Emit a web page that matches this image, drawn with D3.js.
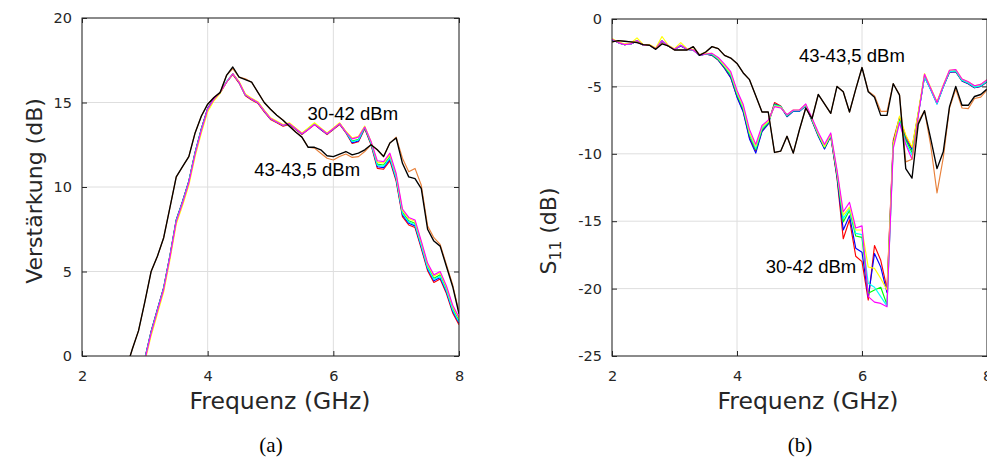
<!DOCTYPE html>
<html>
<head>
<meta charset="utf-8">
<script src="https://cdn.jsdelivr.net/npm/d3@7"></script>
<style>
  html, body { margin: 0; padding: 0; background: #ffffff; }
  svg { display: block; }
</style>
</head>
<body>
<svg id="chart" width="987" height="475"></svg>
<script>
// ---------------- DATA ----------------
// Panel (a): gain vs frequency
const freqGain = [2.7,2.8,2.9,
  3.0,3.1,3.2,3.3,3.4,3.5,3.6,3.7,3.8,3.9,
  4.0,4.1,4.2,4.3,4.4,4.5,4.6,4.7,4.8,4.9,
  5.0,5.1,5.2,5.3,5.4,5.5,5.6,5.7,5.8,5.9,
  6.0,6.1,6.2,6.3,6.4,6.5,6.6,6.7,6.8,6.9,
  7.0,7.1,7.2,7.3,7.4,7.5,7.6,7.7,7.8,7.9,
  8.0];

const gain30 = [null,null,null,
  -0.15,1.45,2.75,4.05,5.95,8.05,9.15,10.35,12.05,13.45,
  14.65,15.25,15.6,16.2,16.65,16.15,15.4,15.15,14.95,14.45,
  14.0,13.8,13.6,13.7,13.4,13.1,13.4,13.7,13.4,13.1,
  13.4,13.7,13.2,12.58,12.68,13.45,12.5,11.1,11.05,11.55,
  10.35,8.25,7.75,7.6,6.35,5.05,4.35,4.55,3.7,2.55,
  1.85];
const gain33 = [null,null,null,
  -0.15,1.45,2.75,4.05,5.95,8.05,9.15,10.35,12.05,13.45,
  14.65,15.2,15.6,16.2,16.7,16.2,15.45,15.2,15.0,14.5,
  14.05,13.85,13.65,13.75,13.45,13.15,13.45,13.75,13.4,13.15,
  13.45,13.75,13.25,12.62,12.72,13.5,12.55,11.2,11.15,11.65,
  10.45,8.35,7.85,7.7,6.45,5.15,4.45,4.65,3.8,2.65,
  1.95];
const gain36 = [null,null,null,
  -0.2,1.4,2.7,4.0,5.9,8.0,9.1,10.3,12.0,13.4,
  14.6,15.2,15.6,16.2,16.7,16.2,15.45,15.2,15.0,14.5,
  14.05,13.85,13.65,13.75,13.45,13.15,13.45,13.75,13.45,13.15,
  13.45,13.75,13.25,12.72,12.82,13.5,12.6,11.35,11.3,11.8,
  10.6,8.5,8.0,7.85,6.6,5.3,4.6,4.8,3.95,2.8,
  2.1];
const gain39 = [null,null,null,
  -0.2,1.4,2.7,4.0,5.9,8.0,9.1,10.3,12.0,13.4,
  14.6,15.2,15.6,16.25,16.7,16.2,15.45,15.2,15.0,14.5,
  14.05,13.85,13.65,13.75,13.45,13.15,13.45,13.75,13.45,13.15,
  13.45,13.75,13.25,12.68,12.78,13.55,12.6,11.28,11.22,11.72,
  10.52,8.42,7.92,7.77,6.52,5.22,4.52,4.72,3.87,2.72,
  2.02];
const gain41 = [null,null,null,
  -0.35,1.2,2.5,3.8,5.7,7.8,8.9,10.1,11.8,13.2,
  14.45,15.1,15.55,16.2,16.7,16.25,15.5,15.25,15.05,14.55,
  14.1,13.9,13.7,13.8,13.5,13.2,13.5,13.8,13.5,13.2,
  13.5,13.8,13.3,12.9,13.0,13.6,12.7,11.47,11.42,11.92,
  10.72,8.62,8.12,7.97,6.72,5.42,4.72,4.92,4.07,2.92,
  2.22];
const gain42 = [null,null,null,
  -0.25,1.35,2.65,3.95,5.85,7.95,9.05,10.25,11.95,13.35,
  14.6,15.2,15.6,16.2,16.7,16.2,15.45,15.2,15.0,14.5,
  14.05,13.85,13.65,13.75,13.45,13.15,13.4,13.7,13.45,13.15,
  13.45,13.75,13.25,12.85,12.95,13.55,12.7,11.55,11.5,12.0,
  10.8,8.7,8.2,8.05,6.8,5.5,4.8,5.0,4.15,3.0,
  2.3];
const gain43 = [-0.8,0.4,1.5,
  3.2,5.0,5.9,7.0,8.8,10.6,11.2,11.8,13.2,14.2,
  14.9,15.3,15.6,16.6,17.0,16.5,16.4,16.2,15.6,15.0,
  14.6,14.25,13.95,13.6,13.25,12.95,12.35,12.3,12.0,11.7,
  11.6,11.8,11.95,11.75,11.8,12.1,12.5,12.2,11.8,12.6,
  12.95,11.7,10.9,11.1,10.1,7.7,7.0,6.6,5.4,4.2,
  2.6];
const gain435 = [-0.8,0.4,1.5,
  3.2,5.0,5.9,7.0,8.8,10.6,11.2,11.8,13.2,14.2,
  14.9,15.3,15.6,16.6,17.1,16.5,16.35,16.2,15.6,15.0,
  14.6,14.25,13.95,13.6,13.25,12.95,12.35,12.35,12.2,11.85,
  11.8,11.95,12.1,11.9,12.0,12.2,12.5,12.2,11.8,12.6,
  12.9,11.4,10.6,10.5,9.9,7.5,6.8,6.5,5.3,4.1,
  2.5];

// Panel (b): S11 vs frequency
const freqS11 = [2.0,2.1,2.2,2.3,2.4,2.5,2.6,2.7,2.8,2.9,
  3.0,3.1,3.2,3.3,3.4,3.5,3.6,3.7,3.8,3.9,
  4.0,4.1,4.2,4.3,4.4,4.5,4.6,4.7,4.8,4.9,
  5.0,5.1,5.2,5.3,5.4,5.5,5.6,5.7,5.8,5.9,
  6.0,6.1,6.2,6.3,6.4,6.5,6.6,6.7,6.8,6.9,
  7.0,7.1,7.2,7.3,7.4,7.5,7.6,7.7,7.8,7.9,
  8.0];

const s11_30 = [-1.55,-1.75,-1.9,-1.85,-1.65,-1.95,-1.95,-2.2,-1.65,-2.0,
  -2.25,-2.0,-2.25,-2.3,-2.7,-2.6,-2.7,-3.05,-3.65,-4.35,
  -5.75,-6.85,-8.8,-9.8,-8.3,-7.75,-6.2,-6.45,-7.2,-6.8,
  -6.8,-6.4,-7.55,-8.65,-9.6,-8.7,-11.8,-16.3,-14.9,-17.6,
  -18.0,-20.85,-16.8,-17.9,-20.0,-9.0,-7.3,-8.7,-9.6,-7.0,
  -4.2,-5.2,-6.2,-5.0,-3.95,-3.9,-4.6,-4.8,-5.1,-5.0,
  -4.65];
const s11_33 = [-1.55,-1.75,-1.9,-1.85,-1.65,-1.95,-1.95,-2.2,-1.65,-2.0,
  -2.25,-2.0,-2.25,-2.3,-2.7,-2.6,-2.7,-3.05,-3.65,-4.35,
  -5.8,-6.9,-8.9,-9.95,-8.35,-7.8,-6.3,-6.5,-7.25,-6.85,
  -6.85,-6.45,-7.55,-8.7,-9.65,-8.7,-11.7,-15.65,-14.6,-17.0,
  -17.3,-20.6,-17.4,-18.4,-20.3,-9.2,-7.4,-8.9,-9.7,-7.1,
  -4.3,-5.25,-6.3,-5.05,-3.95,-3.9,-4.6,-4.8,-5.1,-5.0,
  -4.65];
const s11_36 = [-1.5,-1.75,-1.9,-1.85,-1.6,-1.95,-1.95,-2.2,-1.6,-2.0,
  -2.25,-1.95,-2.25,-2.3,-2.7,-2.6,-2.65,-3.0,-3.55,-4.2,
  -5.6,-6.7,-8.6,-9.7,-8.2,-7.7,-6.35,-6.5,-7.2,-6.8,
  -6.8,-6.4,-7.5,-8.6,-9.55,-8.65,-11.5,-15.05,-14.2,-16.1,
  -16.2,-20.35,-20.1,-19.9,-21.2,-9.3,-7.5,-9.0,-9.9,-7.0,
  -4.25,-5.2,-6.25,-5.0,-3.9,-3.85,-4.55,-4.75,-5.05,-4.95,
  -4.6];
const s11_39 = [-1.5,-1.75,-1.9,-1.85,-1.6,-1.95,-1.95,-2.2,-1.6,-2.0,
  -2.25,-1.95,-2.25,-2.3,-2.7,-2.6,-2.6,-2.95,-3.5,-4.1,
  -5.5,-6.6,-8.5,-9.6,-8.1,-7.65,-6.4,-6.5,-7.15,-6.8,
  -6.8,-6.4,-7.45,-8.55,-9.5,-8.6,-11.4,-14.8,-14.05,-15.9,
  -16.0,-19.6,-19.9,-20.6,-21.3,-9.4,-7.6,-9.2,-10.1,-7.1,
  -4.3,-5.25,-6.3,-5.05,-3.9,-3.85,-4.55,-4.75,-5.05,-4.95,
  -4.6];
const s11_41 = [-1.45,-1.7,-1.85,-1.8,-1.4,-1.9,-1.9,-2.15,-1.3,-1.95,
  -2.2,-1.75,-2.2,-2.25,-2.65,-2.55,-2.55,-2.9,-3.45,-4.0,
  -5.4,-6.5,-8.4,-9.45,-8.0,-7.6,-6.45,-6.55,-7.1,-6.75,
  -6.75,-6.35,-7.4,-8.5,-9.45,-8.55,-11.3,-14.55,-13.95,-15.65,
  -15.65,-18.4,-18.5,-19.25,-20.1,-9.3,-7.2,-8.6,-9.5,-6.9,
  -4.05,-5.1,-6.15,-4.9,-3.8,-3.75,-4.45,-4.65,-4.95,-4.85,
  -4.5];
const s11_42 = [-1.5,-1.75,-1.9,-1.85,-1.6,-1.95,-1.95,-2.2,-1.6,-2.0,
  -2.25,-1.95,-2.25,-2.3,-2.7,-2.6,-2.55,-2.85,-3.35,-3.9,
  -5.3,-6.35,-8.2,-9.3,-7.9,-7.5,-6.5,-6.6,-7.1,-6.75,
  -6.75,-6.3,-7.35,-8.4,-9.3,-8.45,-11.2,-14.3,-13.6,-15.5,
  -15.35,-20.6,-21.0,-21.1,-21.35,-9.6,-7.7,-9.3,-10.4,-7.2,
  -4.1,-5.15,-6.2,-4.95,-3.8,-3.75,-4.45,-4.65,-4.95,-4.85,
  -4.5];
const s11_43 = [-1.7,-1.6,-1.65,-1.7,-1.7,-1.9,-1.95,-2.2,-1.8,-2.0,
  -2.3,-2.3,-2.3,-2.05,-2.65,-2.45,-2.05,-2.2,-2.7,-2.9,
  -3.3,-4.0,-4.5,-5.7,-6.9,-6.9,-9.9,-9.8,-8.7,-9.95,
  -8.2,-6.6,-7.4,-5.6,-6.3,-7.0,-5.0,-5.4,-6.9,-5.2,
  -3.6,-5.35,-5.7,-6.85,-6.85,-4.8,-5.6,-10.6,-10.4,-7.6,
  -6.8,-9.4,-12.9,-10.3,-6.6,-5.2,-6.6,-6.65,-5.9,-5.8,
  -5.25];
const s11_435 = [-1.7,-1.6,-1.65,-1.7,-1.75,-1.9,-1.95,-2.25,-1.85,-2.0,
  -2.3,-2.3,-2.3,-2.05,-2.7,-2.45,-2.05,-2.2,-2.7,-2.9,
  -3.3,-4.0,-4.5,-5.7,-6.9,-6.9,-9.9,-9.8,-8.7,-9.95,
  -8.2,-6.6,-7.4,-5.6,-6.3,-7.0,-5.0,-5.4,-6.9,-5.2,
  -3.6,-5.4,-5.8,-7.15,-7.15,-4.8,-5.65,-11.1,-11.8,-7.8,
  -6.8,-8.9,-11.1,-9.85,-6.5,-5.0,-6.4,-6.4,-5.75,-5.6,
  -5.2];

const seriesNames  = ["30 dBm","33 dBm","36 dBm","39 dBm","41 dBm","42 dBm","43 dBm","43,5 dBm"];
const seriesColors = ["#ff0000","#0000ff","#00ff00","#00ffff","#ffff00","#ff00ff","#e8803a","#000000"];
const gainSeries = [gain30, gain33, gain36, gain39, gain41, gain42, gain43, gain435];
const s11Series  = [s11_30, s11_33, s11_36, s11_39, s11_41, s11_42, s11_43, s11_435];

const xTickValues = [2, 4, 6, 8];
const gainTicks = [0, 5, 10, 15, 20];
const s11Ticks = [-25, -20, -15, -10, -5, 0];

const xLabel = "Frequenz (GHz)";
const gainLabel = "Verstärkung (dB)";
const panelCaptions = ["(a)", "(b)"];
// annotation anchors (left/baseline) in data units
const gainNotes = [{text: "30-42 dBm", f: 5.59, v: 13.96}, {text: "43-43,5 dBm", f: 4.74, v: 10.65}];
const s11Notes  = [{text: "43-43,5 dBm", f: 4.99, v: -3.17}, {text: "30-42 dBm", f: 4.46, v: -18.84}];

// ---------------- DRAWING ----------------
const svg = d3.select("#chart");
const axisFont = "'DejaVu Sans', sans-serif";
const noteFont = "'Liberation Sans', Arial, sans-serif";

function drawPanel(opt) {
  const g = svg.append("g");
  const x = d3.scaleLinear().domain([2, 8]).range([opt.left, opt.right]);
  const y = d3.scaleLinear().domain(opt.yDomain).range([opt.bottom, opt.top]);

  // grid
  g.append("g").selectAll("line").data(xTickValues).join("line")
    .attr("x1", d => x(d)).attr("x2", d => x(d))
    .attr("y1", opt.top).attr("y2", opt.bottom)
    .attr("stroke", "#dedede").attr("stroke-width", 1);
  g.append("g").selectAll("line").data(opt.yTicks).join("line")
    .attr("x1", opt.left).attr("x2", opt.right)
    .attr("y1", d => y(d)).attr("y2", d => y(d))
    .attr("stroke", "#dedede").attr("stroke-width", 1);

  // clip
  const clipId = "clip-" + opt.id;
  svg.append("clipPath").attr("id", clipId).append("rect")
    .attr("x", opt.left).attr("y", opt.top)
    .attr("width", opt.right - opt.left).attr("height", opt.bottom - opt.top);

  const line = d3.line()
    .defined(d => d[1] !== null)
    .x(d => x(d[0])).y(d => y(d[1]));

  const lines = g.append("g").attr("clip-path", `url(#${clipId})`);
  opt.series.forEach((vals, i) => {
    const pts = opt.freq.map((f, k) => [f, vals[k]]);
    lines.append("path")
      .attr("d", line(pts))
      .attr("fill", "none")
      .attr("stroke", seriesColors[i])
      .attr("stroke-width", i === 7 ? 1.35 : 1.15)
      .attr("stroke-linejoin", "round")
      .attr("data-name", seriesNames[i]);
  });

  // axes (inward ticks, MATLAB-style box)
  const fmt = d => String(d);
  const axB = g.append("g").attr("transform", `translate(0,${opt.bottom})`)
    .call(d3.axisBottom(x).tickValues(xTickValues).tickFormat(fmt).tickSizeInner(-5).tickSizeOuter(0).tickPadding(15));
  const axT = g.append("g").attr("transform", `translate(0,${opt.top})`)
    .call(d3.axisTop(x).tickValues(xTickValues).tickFormat("").tickSizeInner(-5).tickSizeOuter(0));
  const axL = g.append("g").attr("transform", `translate(${opt.left},0)`)
    .call(d3.axisLeft(y).tickValues(opt.yTicks).tickFormat(fmt).tickSizeInner(-5).tickSizeOuter(0).tickPadding(10));
  const axR = g.append("g").attr("transform", `translate(${opt.right},0)`)
    .call(d3.axisRight(y).tickValues(opt.yTicks).tickFormat("").tickSizeInner(-5).tickSizeOuter(0));
  [axB, axT, axL, axR].forEach(a => {
    a.select(".domain").remove();
    a.selectAll(".tick line").attr("stroke", "#262626");
    a.selectAll(".tick text").attr("fill", "#262626")
      .style("font-family", axisFont).style("font-size", "14.5px");
  });

  // box
  g.append("rect")
    .attr("x", opt.left).attr("y", opt.top)
    .attr("width", opt.right - opt.left).attr("height", opt.bottom - opt.top)
    .attr("fill", "none").attr("stroke", "#262626").attr("stroke-width", 1);

  // x label
  g.append("text")
    .attr("x", opt.xLabelX).attr("y", 409)
    .attr("text-anchor", "middle")
    .style("font-family", axisFont).style("font-size", "23.5px").attr("fill", "#262626")
    .text(xLabel);

  // annotations
  opt.notes.forEach(n => {
    g.append("text")
      .attr("x", x(n.f)).attr("y", y(n.v))
      .style("font-family", noteFont).style("font-size", "18.5px").attr("fill", "#000")
      .text(n.text);
  });

  // caption
  g.append("text")
    .attr("x", opt.captionX).attr("y", 452)
    .attr("text-anchor", "middle")
    .style("font-family", "'Liberation Serif', 'DejaVu Serif', serif").style("font-size", "21px").attr("fill", "#000")
    .text(opt.caption);

  return {x, y, g};
}

const pA = drawPanel({
  id: "a", left: 82, right: 459, top: 18, bottom: 356,
  yDomain: [0, 20], yTicks: gainTicks, freq: freqGain, series: gainSeries,
  notes: gainNotes, xLabelX: 280, caption: panelCaptions[0], captionX: 271
});
pA.g.append("text")
  .attr("transform", "translate(42,191) rotate(-90)")
  .attr("text-anchor", "middle")
  .style("font-family", axisFont).style("font-size", "22px").attr("fill", "#262626")
  .text(gainLabel);

const pB = drawPanel({
  id: "b", left: 612, right: 987, top: 19, bottom: 356,
  yDomain: [-25, 0], yTicks: s11Ticks, freq: freqS11, series: s11Series,
  notes: s11Notes, xLabelX: 808, caption: panelCaptions[1], captionX: 800
});
const s11Lab = pB.g.append("text")
  .attr("transform", "translate(556,231) rotate(-90)")
  .attr("text-anchor", "middle")
  .style("font-family", axisFont).style("font-size", "22px").attr("fill", "#262626");
s11Lab.append("tspan").text("S");
s11Lab.append("tspan").attr("dy", 5).style("font-size", "15.5px").text("11");
s11Lab.append("tspan").attr("dy", -5).text(" (dB)");
</script>
</body>
</html>
